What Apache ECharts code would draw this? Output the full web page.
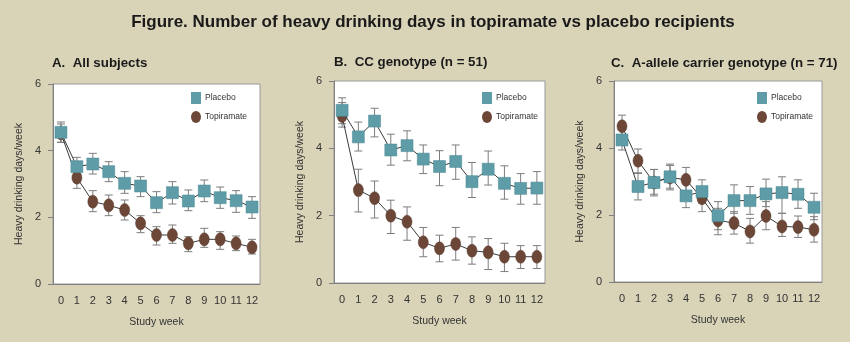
<!DOCTYPE html>
<html>
<head>
<meta charset="utf-8">
<script src="https://cdn.jsdelivr.net/npm/echarts@6/dist/echarts.min.js"></script>
<style>
  html, body { margin: 0; padding: 0; background: #d9d3b7; }
  #chart { width: 850px; height: 342px; }
</style>
</head>
<body>
<div id="chart"></div>
<script>
// Study weeks on the x axis
const weeks = ['0', '1', '2', '3', '4', '5', '6', '7', '8', '9', '10', '11', '12'];
const yTicks = [0, 2, 4, 6];

// Panel A: all subjects (mean, lower and upper error bar)
const placeboA    = [4.55, 3.52, 3.60, 3.37, 3.02, 2.94, 2.44, 2.74, 2.49, 2.79, 2.59, 2.50, 2.31];
const placeboALo  = [4.25, 3.22, 3.30, 3.07, 2.72, 2.62, 2.14, 2.40, 2.20, 2.47, 2.27, 2.15, 1.97];
const placeboAHi  = [4.86, 3.80, 3.92, 3.67, 3.37, 3.22, 2.77, 3.07, 2.82, 3.12, 2.91, 2.80, 2.62];
const topiA       = [4.52, 3.19, 2.47, 2.36, 2.22, 1.82, 1.47, 1.47, 1.22, 1.34, 1.34, 1.22, 1.10];
const topiALo     = [4.25, 2.87, 2.17, 2.05, 1.92, 1.54, 1.17, 1.22, 0.97, 1.10, 1.04, 1.00, 0.90];
const topiAHi     = [4.80, 3.52, 2.80, 2.67, 2.52, 2.05, 1.72, 1.77, 1.42, 1.67, 1.57, 1.44, 1.34];

// Panel B: CC genotype
const placeboB    = [5.13, 4.34, 4.81, 3.95, 4.08, 3.68, 3.46, 3.61, 3.01, 3.38, 2.96, 2.81, 2.82];
const placeboBLo  = [4.73, 3.92, 4.34, 3.50, 3.63, 3.25, 2.89, 3.08, 2.54, 2.91, 2.49, 2.34, 2.34];
const placeboBHi  = [5.50, 4.78, 5.19, 4.42, 4.52, 4.10, 3.93, 4.10, 3.58, 3.92, 3.48, 3.25, 3.31];
const topiB       = [4.96, 2.76, 2.52, 2.00, 1.82, 1.21, 1.03, 1.16, 0.96, 0.91, 0.78, 0.78, 0.78];
const topiBLo     = [4.63, 2.11, 1.93, 1.47, 1.27, 0.78, 0.63, 0.68, 0.56, 0.40, 0.34, 0.43, 0.43];
const topiBHi     = [5.36, 3.38, 3.03, 2.46, 2.26, 1.65, 1.42, 1.65, 1.37, 1.32, 1.18, 1.11, 1.11];

// Panel C: A-allele carrier genotype
const placeboC    = [4.24, 2.85, 2.97, 3.14, 2.57, 2.70, 1.98, 2.43, 2.43, 2.63, 2.67, 2.62, 2.23];
const placeboCLo  = [3.94, 2.45, 2.57, 2.75, 2.22, 2.35, 1.56, 2.05, 2.02, 2.25, 2.05, 2.20, 1.86];
const placeboCHi  = [4.54, 3.26, 3.36, 3.52, 2.99, 3.05, 2.40, 2.90, 2.85, 3.07, 3.14, 3.05, 2.65];
const topiC       = [4.65, 3.62, 2.97, 3.12, 3.05, 2.50, 1.84, 1.76, 1.51, 1.97, 1.66, 1.64, 1.56];
const topiCLo     = [4.29, 3.24, 2.62, 2.80, 2.65, 2.10, 1.41, 1.43, 1.16, 1.56, 1.36, 1.33, 1.19];
const topiCHi     = [4.98, 3.97, 3.36, 3.48, 3.42, 2.85, 2.20, 2.10, 1.90, 2.40, 2.05, 1.97, 1.95];

const mainTitle = 'Figure. Number of heavy drinking days in topiramate vs placebo recipients';
const panelTitles = ['A.  All subjects', 'B.  CC genotype (n = 51)', 'C.  A-allele carrier genotype (n = 71)'];

const FONT = '"Liberation Sans", Arial, Helvetica, sans-serif';
const PLACEBO_COLOR = '#5e9da8';
const TOPI_COLOR = '#6c4737';
const ELLIPSE = 'path://M0,6A5,6 0 1,1 10,6A5,6 0 1,1 0,6Z';

const panels = [
  { grid: { left: 53, top: 84, width: 207, height: 200 }, title: { x: 52, y: 63 },
    legend: { left: 191, top: 92 },
    placebo: [placeboA, placeboALo, placeboAHi], topi: [topiA, topiALo, topiAHi] },
  { grid: { left: 334, top: 81, width: 211, height: 202 }, title: { x: 334, y: 62 },
    legend: { left: 482, top: 92 },
    placebo: [placeboB, placeboBLo, placeboBHi], topi: [topiB, topiBLo, topiBHi] },
  { grid: { left: 614, top: 81, width: 208, height: 201 }, title: { x: 611, y: 63 },
    legend: { left: 757, top: 92 },
    placebo: [placeboC, placeboCLo, placeboCHi], topi: [topiC, topiCLo, topiCHi] }
];

// Vertical error bar with short caps at both ends
function errorBarItem(params, api) {
  const x = api.value(0);
  const lo = api.coord([x, api.value(1)]);
  const hi = api.coord([x, api.value(2)]);
  const half = 4;
  const style = { stroke: '#7d7d7d', lineWidth: 1, fill: null };
  return {
    type: 'group',
    children: [
      { type: 'line', shape: { x1: lo[0], y1: lo[1], x2: hi[0], y2: hi[1] }, style },
      { type: 'line', shape: { x1: lo[0] - half, y1: lo[1], x2: lo[0] + half, y2: lo[1] }, style },
      { type: 'line', shape: { x1: hi[0] - half, y1: hi[1], x2: hi[0] + half, y2: hi[1] }, style }
    ]
  };
}

const grids = [], xAxes = [], yAxes = [], series = [], legends = [], graphics = [];

graphics.push({
  type: 'text', x: 433, y: 22,
  style: { text: mainTitle, font: 'bold 17px ' + FONT, fill: '#1a1a1a', textAlign: 'center', textVerticalAlign: 'middle' }
});

panels.forEach((p, i) => {
  grids.push(Object.assign({ show: true, backgroundColor: '#ffffff', borderColor: '#9a9a9a', borderWidth: 1, containLabel: false }, p.grid));

  graphics.push({
    type: 'text', x: p.title.x, y: p.title.y,
    style: { text: panelTitles[i], font: 'bold 13.3px ' + FONT, fill: '#1a1a1a', textAlign: 'left', textVerticalAlign: 'middle' }
  });

  xAxes.push({
    type: 'category', gridIndex: i, data: weeks, boundaryGap: true,
    name: 'Study week', nameLocation: 'middle', nameGap: 33,
    nameTextStyle: { fontFamily: FONT, fontSize: 10.5, color: '#333' },
    axisLine: { lineStyle: { color: '#808080' } },
    axisTick: { alignWithLabel: true, interval: 0, length: 5, lineStyle: { color: '#808080' } },
    axisLabel: { interval: 0, margin: 11, fontFamily: FONT, fontSize: 11, color: '#333' },
    splitLine: { show: false }
  });

  yAxes.push({
    type: 'value', gridIndex: i, min: yTicks[0], max: yTicks[yTicks.length - 1], interval: 2,
    name: 'Heavy drinking days/week', nameLocation: 'middle', nameGap: 28,
    nameTextStyle: { fontFamily: FONT, fontSize: 10.5, color: '#333' },
    axisLine: { show: true, lineStyle: { color: '#808080' } },
    axisTick: { show: true, length: 5, lineStyle: { color: '#808080' } },
    axisLabel: { margin: 12, fontFamily: FONT, fontSize: 11, color: '#333' },
    splitLine: { show: false }
  });

  const [pm, plo, phi] = p.placebo;
  const [tm, tlo, thi] = p.topi;

  series.push({
    type: 'custom', name: 'Topiramate', xAxisIndex: i, yAxisIndex: i, z: 1,
    renderItem: errorBarItem, encode: { x: 0, y: [1, 2] },
    data: weeks.map((w, k) => [k, tlo[k], thi[k]])
  });
  series.push({
    type: 'custom', name: 'Placebo', xAxisIndex: i, yAxisIndex: i, z: 1,
    renderItem: errorBarItem, encode: { x: 0, y: [1, 2] },
    data: weeks.map((w, k) => [k, plo[k], phi[k]])
  });
  series.push({
    type: 'line', name: 'Topiramate', xAxisIndex: i, yAxisIndex: i, z: 2,
    data: tm, symbol: ELLIPSE, symbolSize: [10, 13], showAllSymbol: true,
    lineStyle: { color: '#3a3a3a', width: 1 },
    itemStyle: { color: TOPI_COLOR, borderColor: '#5a3a2c', borderWidth: 0.5 },
    emphasis: { disabled: true }, animation: false
  });
  series.push({
    type: 'line', name: 'Placebo', xAxisIndex: i, yAxisIndex: i, z: 3,
    data: pm, symbol: 'rect', symbolSize: 12, showAllSymbol: true,
    lineStyle: { color: '#3a3a3a', width: 1 },
    itemStyle: { color: PLACEBO_COLOR, borderColor: '#4b8893', borderWidth: 0.5 },
    emphasis: { disabled: true }, animation: false
  });

  legends.push({
    left: p.legend.left, top: p.legend.top, orient: 'vertical', padding: 0,
    itemWidth: 10, itemHeight: 12, itemGap: 7, selectedMode: false,
    textStyle: { fontFamily: FONT, fontSize: 8.5, color: '#333', padding: [0, 0, 0, -1] },
    data: [
      { name: 'Placebo', icon: 'rect', itemStyle: { color: PLACEBO_COLOR } },
      { name: 'Topiramate', icon: ELLIPSE, itemStyle: { color: TOPI_COLOR } }
    ]
  });
});

const chart = echarts.init(document.getElementById('chart'), null, { renderer: 'canvas' });
chart.setOption({
  backgroundColor: '#d9d3b7',
  animation: false,
  grid: grids,
  xAxis: xAxes,
  yAxis: yAxes,
  legend: legends,
  series: series,
  graphic: graphics
});
</script>
</body>
</html>
